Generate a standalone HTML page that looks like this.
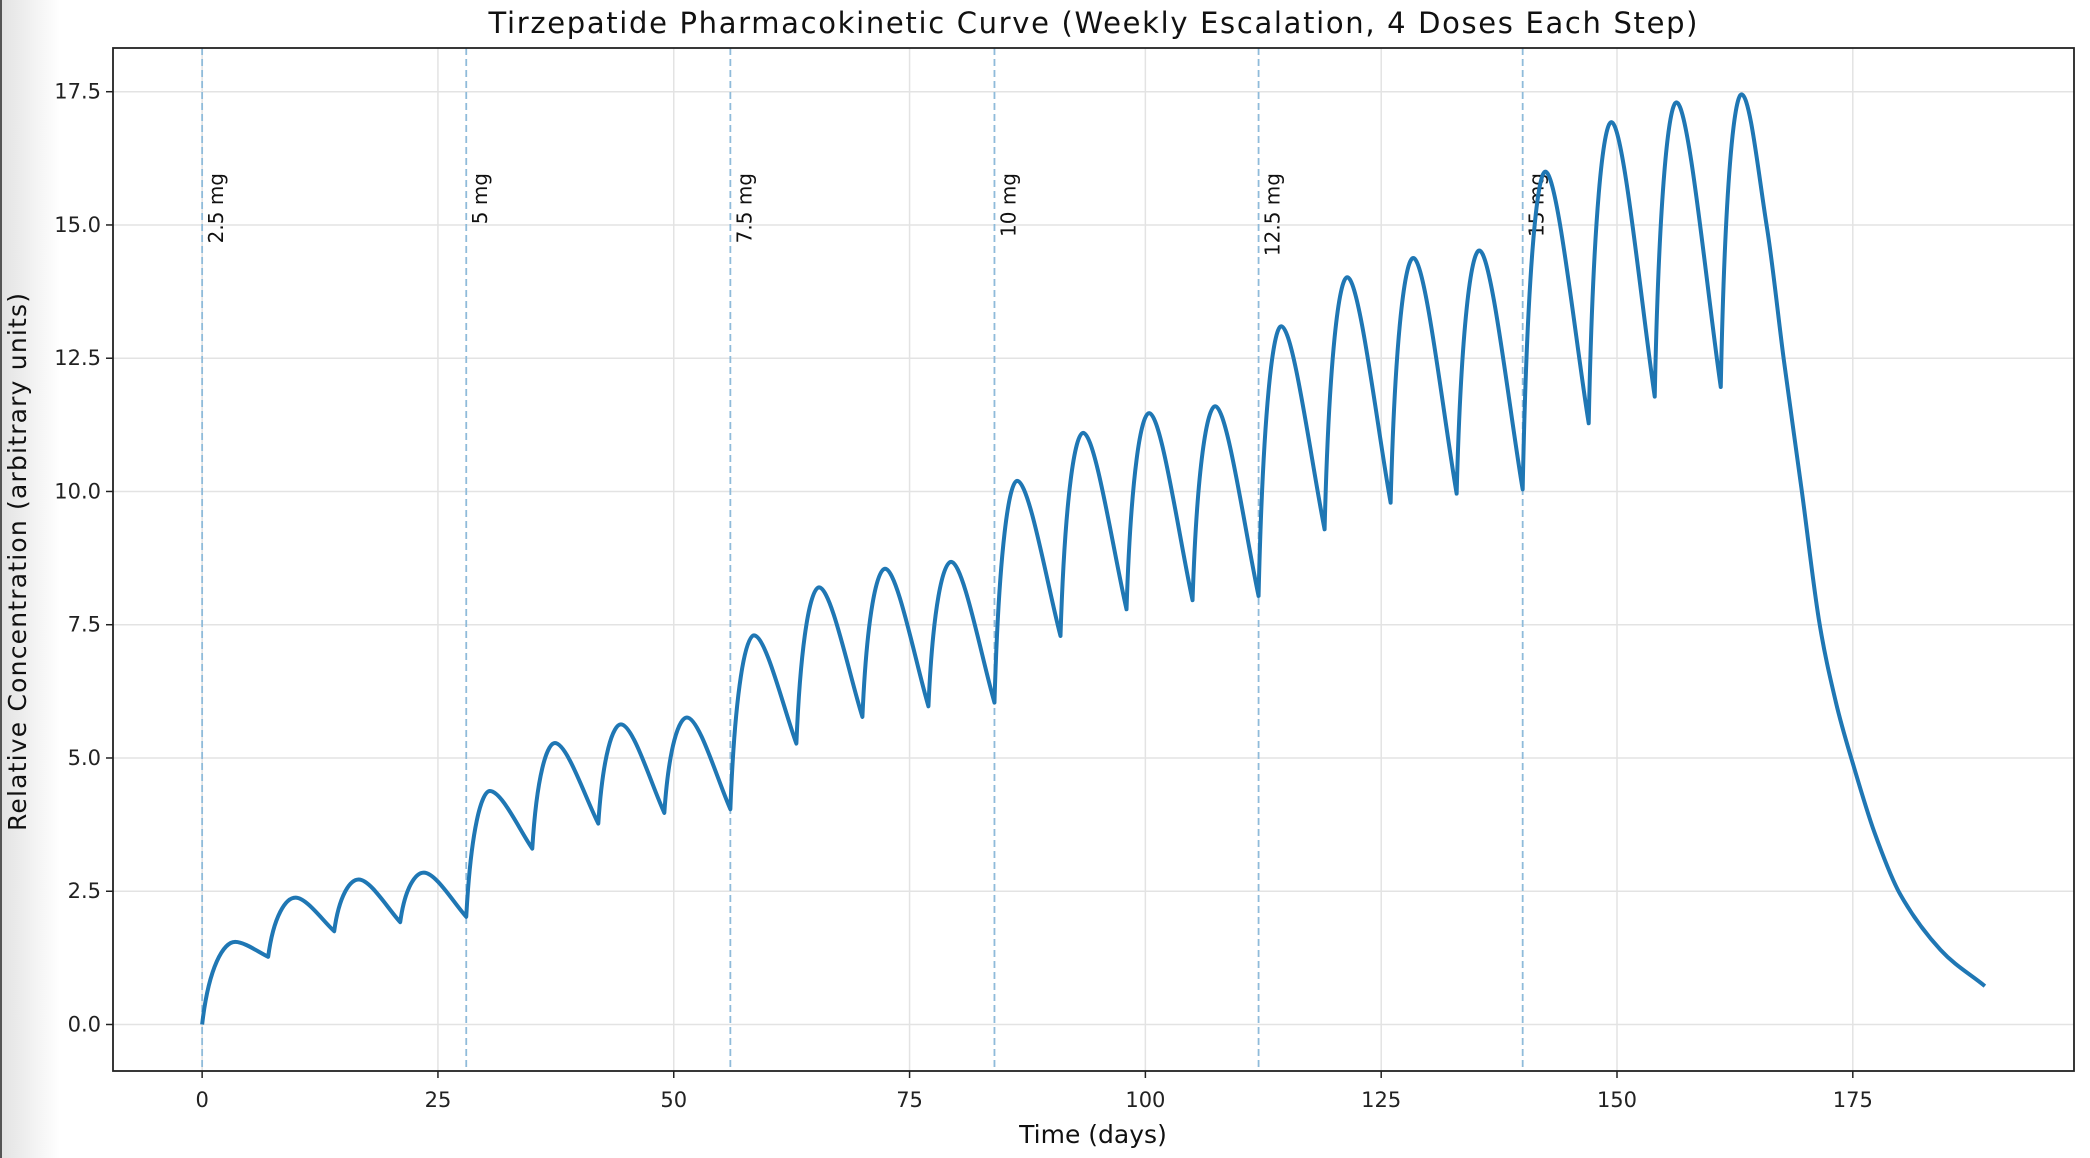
<!DOCTYPE html>
<html><head><meta charset="utf-8"><style>
html,body{margin:0;padding:0;background:#fff;}
svg{display:block;font-family:"DejaVu Sans","Liberation Sans",sans-serif;}
</style></head><body>
<svg id="chart" width="2090" height="1158" viewBox="0 0 2090 1158" xmlns="http://www.w3.org/2000/svg">
<defs><linearGradient id="edge" x1="0" x2="1" y1="0" y2="0"><stop offset="0" stop-color="#e2e2e2"/><stop offset="1" stop-color="#ffffff"/></linearGradient></defs>
<rect x="0" y="0" width="2090" height="1158" fill="#fff"/>
<rect x="0" y="0" width="60" height="1158" fill="url(#edge)"/>
<rect x="0" y="0" width="2" height="1158" fill="#555"/>
<text x="1093" y="33" text-anchor="middle" font-size="29" textLength="1209" fill="#111">Tirzepatide Pharmacokinetic Curve (Weekly Escalation, 4 Doses Each Step)</text>
<g id="grid"></g><g id="doses"></g><g id="series"></g><g id="axes"></g>
<text x="1093" y="1143" text-anchor="middle" font-size="25" fill="#111">Time (days)</text>
<text transform="translate(26,562) rotate(-90)" text-anchor="middle" font-size="25" textLength="538" fill="#111">Relative Concentration (arbitrary units)</text>
</svg>
<script>
const doseTimes=[0,7,14,21,28,35,42,49,56,63,70,77,84,91,98,105,112,119,126,133,140,147,154,161];
const troughValues=[0,1.27,1.75,1.92,2.02,3.3,3.77,3.97,4.04,5.27,5.77,5.97,6.04,7.29,7.79,7.96,8.04,9.29,9.79,9.96,10.04,11.28,11.78,11.96];
const peakValues=[1.55,2.38,2.72,2.85,4.38,5.28,5.63,5.76,7.3,8.2,8.55,8.68,10.2,11.1,11.47,11.6,13.1,14.02,14.38,14.52,16.0,16.93,17.3,17.45];
const peakOffsets=[3.5,2.9,2.6,2.5,2.5,2.4,2.4,2.4,2.5,2.4,2.4,2.4,2.4,2.4,2.4,2.4,2.4,2.4,2.4,2.4,2.4,2.4,2.3,2.2];
const tailTimes=[165.9,167.7,169.6,171.4,173.2,175.0,177.3,180.0,184.3,189.0];
const tailValues=[14.95,12.45,10.0,7.6,6.05,4.9,3.6,2.45,1.40,0.72];
const stepTimes=[0,28,56,84,112,140];
const stepLabels=["2.5 mg","5 mg","7.5 mg","10 mg","12.5 mg","15 mg"];
const xTicks=[0,25,50,75,100,125,150,175];
const yTicks=[0,2.5,5,7.5,10,12.5,15,17.5];
const yTickLabels=["0.0","2.5","5.0","7.5","10.0","12.5","15.0","17.5"];

const L=113,R=2074,T=48,B=1071;
const xMin=-9.45,xMax=198.45,yMin=-0.8725,yMax=18.32;
const X=v=>L+(v-xMin)/(xMax-xMin)*(R-L);
const Y=v=>B-(v-yMin)/(yMax-yMin)*(B-T);
const NS="http://www.w3.org/2000/svg";
function mk(tag,parent){const e=document.createElementNS(NS,tag);parent.appendChild(e);return e;}
const grid=document.getElementById('grid'),doses=document.getElementById('doses'),series=document.getElementById('series'),axes=document.getElementById('axes');

xTicks.forEach((t,i)=>{
  const g=mk('line',grid);g.setAttribute('x1',X(t));g.setAttribute('x2',X(t));g.setAttribute('y1',T);g.setAttribute('y2',B);g.setAttribute('stroke','#e3e3e3');g.setAttribute('stroke-width','1.5');
  
  
  const tk=mk('line',axes);tk.setAttribute('x1',X(t));tk.setAttribute('x2',X(t));tk.setAttribute('y1',B);tk.setAttribute('y2',B+7);tk.setAttribute('stroke','#222');tk.setAttribute('stroke-width','1.5');
  
  
  const tx=mk('text',axes);tx.setAttribute('x',X(t));tx.setAttribute('y',1107);tx.setAttribute('text-anchor','middle');tx.setAttribute('font-size','21');tx.setAttribute('fill','#222');tx.textContent=String(t);
  
  
});
yTicks.forEach((v,i)=>{
  const g=mk('line',grid);g.setAttribute('x1',L);g.setAttribute('x2',R);g.setAttribute('y1',Y(v));g.setAttribute('y2',Y(v));g.setAttribute('stroke','#e3e3e3');g.setAttribute('stroke-width','1.5');
  
  
  const tk=mk('line',axes);tk.setAttribute('x1',L-7);tk.setAttribute('x2',L);tk.setAttribute('y1',Y(v));tk.setAttribute('y2',Y(v));tk.setAttribute('stroke','#222');tk.setAttribute('stroke-width','1.5');
  
  
  const tx=mk('text',axes);tx.setAttribute('x',L-12);tx.setAttribute('y',Y(v)+7);tx.setAttribute('text-anchor','end');tx.setAttribute('font-size','21');tx.setAttribute('fill','#222');tx.textContent=yTickLabels[i];
  
  
});
stepTimes.forEach((t,i)=>{
  const l=mk('line',doses);l.setAttribute('x1',X(t));l.setAttribute('x2',X(t));l.setAttribute('y1',T);l.setAttribute('y2',B);l.setAttribute('stroke','#8fbbda');l.setAttribute('stroke-width','1.8');l.setAttribute('stroke-dasharray','7,4');
  
  
  const tx=mk('text',doses);tx.setAttribute('transform','translate('+(X(t)+21)+',173) rotate(-90)');tx.setAttribute('text-anchor','end');tx.setAttribute('font-size','20');tx.setAttribute('fill','#111');tx.textContent=stepLabels[i];
  
  
});

// curve
let d='M'+X(doseTimes[0])+','+Y(troughValues[0]);
const n=doseTimes.length;
for(let i=0;i<n;i++){
  const t0=doseTimes[i],v0=troughValues[i],tp=t0+peakOffsets[i],vp=peakValues[i];
  const dt=tp-t0,dv=vp-v0;
  d+=' C'+X(t0+0.2*dt)+','+Y(v0+0.7*dv)+' '+X(tp-0.35*dt)+','+Y(vp)+' '+X(tp)+','+Y(vp);
  if(i<n-1){
    const t1=doseTimes[i+1],v1=troughValues[i+1],dd=t1-tp;
    d+=' C'+X(tp+0.28*dd)+','+Y(vp)+' '+X(t1-0.3*dd)+','+Y(v1+0.32*(vp-v1))+' '+X(t1)+','+Y(v1);
  }
}
// tail via non-uniform Hermite spline (data space)
const TT=[doseTimes[n-1]+peakOffsets[n-1]].concat(tailTimes);
const TV=[peakValues[n-1]].concat(tailValues);
const M=TT.map((t,i)=>{
  if(i===0) return 0;
  if(i===TT.length-1) return (TV[i]-TV[i-1])/(TT[i]-TT[i-1]);
  return (TV[i+1]-TV[i-1])/(TT[i+1]-TT[i-1]);
});
for(let i=0;i<TT.length-1;i++){
  const h=TT[i+1]-TT[i];
  d+=' C'+X(TT[i]+h/3)+','+Y(TV[i]+M[i]*h/3)+' '+X(TT[i+1]-h/3)+','+Y(TV[i+1]-M[i+1]*h/3)+' '+X(TT[i+1])+','+Y(TV[i+1]);
}
const path=mk('path',series);path.setAttribute('d',d);path.setAttribute('fill','none');path.setAttribute('stroke','#1f77b4');path.setAttribute('stroke-width','4');path.setAttribute('stroke-linejoin','round');



const frame=mk('rect',axes);frame.setAttribute('x',L);frame.setAttribute('y',T);frame.setAttribute('width',R-L);frame.setAttribute('height',B-T);frame.setAttribute('fill','none');frame.setAttribute('stroke','#222');frame.setAttribute('stroke-width','1.8');


</script>
</body></html>
